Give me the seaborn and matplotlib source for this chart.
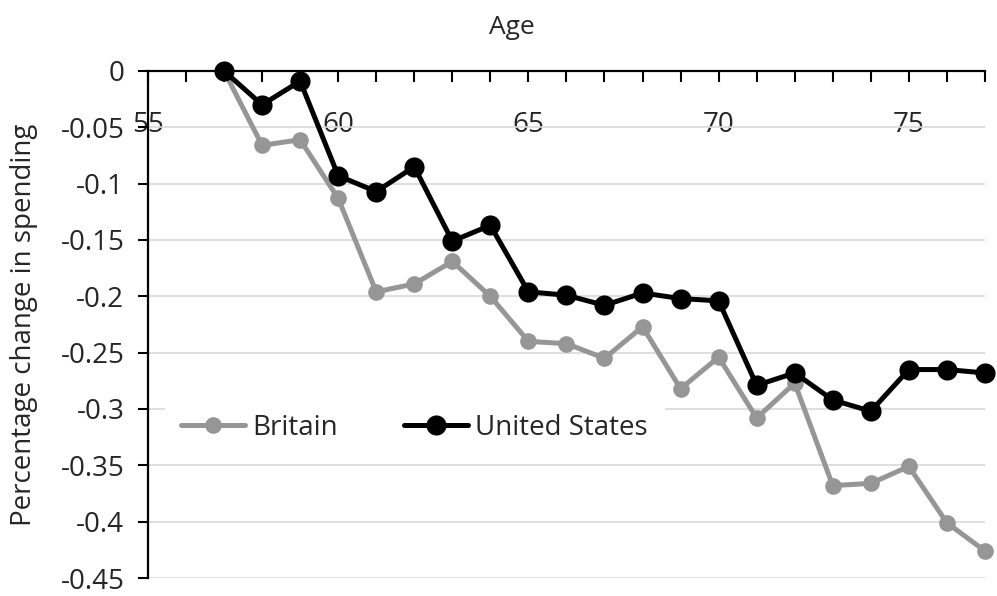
import numpy as np
import pandas as pd
import matplotlib
matplotlib.use("Agg")
import matplotlib.pyplot as plt
from matplotlib.ticker import MultipleLocator
import seaborn as sns

# Data
ages = list(range(57, 78))
britain = [0.0, -0.066, -0.061, -0.113, -0.196, -0.189, -0.169, -0.200, -0.240, -0.242,
           -0.255, -0.227, -0.282, -0.254, -0.308, -0.277, -0.368, -0.366, -0.351, -0.401, -0.426]
united_states = [0.0, -0.030, -0.009, -0.093, -0.107, -0.085, -0.151, -0.137, -0.196, -0.199,
                 -0.208, -0.197, -0.202, -0.204, -0.279, -0.268, -0.292, -0.302, -0.265, -0.265, -0.268]
y_ticks = [0, -0.05, -0.1, -0.15, -0.2, -0.25, -0.3, -0.35, -0.4, -0.45]
y_tick_labels = ["0", "-0.05", "-0.1", "-0.15", "-0.2", "-0.25", "-0.3", "-0.35", "-0.4", "-0.45"]

sns.set_theme(style="white")
plt.rcParams['font.family'] = ['Open Sans', 'DejaVu Sans']
plt.rcParams['axes.unicode_minus'] = False

fig = plt.figure(figsize=(9.97, 5.96), dpi=100)
ax = fig.add_axes([0.1484, 0.0302, 0.8395, 0.8507])

# Britain first so the US marker sits on top at age 57
sns.lineplot(x=ages, y=britain, ax=ax, color='#969696', linewidth=3.6, marker='o',
             markersize=12, markeredgewidth=0, label='Britain', clip_on=False, zorder=3)
sns.lineplot(x=ages, y=united_states, ax=ax, color='black', linewidth=3.6, marker='o',
             markersize=14.5, markeredgewidth=0, label='United States', clip_on=False, zorder=4)

ax.set_xlim(55, 77)
ax.set_ylim(-0.45, 0)

# x axis sits at y = 0, at the top of the plot
ax.spines['bottom'].set_position(('data', 0))
ax.spines['top'].set_visible(False)
ax.spines['right'].set_visible(False)
for s in ['bottom', 'left']:
    ax.spines[s].set_linewidth(1.6)
    ax.spines[s].set_color('black')

ax.xaxis.set_major_locator(MultipleLocator(5))
ax.xaxis.set_minor_locator(MultipleLocator(1))
ax.tick_params(axis='x', which='both', direction='out', length=8, width=1.5, color='black',
               bottom=True, labelsize=20, pad=21)
ax.tick_params(axis='x', which='minor', labelbottom=False)

ax.set_yticks(y_ticks)
ax.set_yticklabels(y_tick_labels)
ax.tick_params(axis='y', direction='out', length=7, width=1.5, color='black', left=True,
               labelsize=20, pad=10)

ax.yaxis.grid(True, color='#d9d9d9', linewidth=1.2)
ax.set_axisbelow(True)

ax.set_xlabel('Age', fontsize=19)
ax.xaxis.set_label_position('top')
ax.xaxis.set_label_coords((512 - 148) / 837, 1 + (71 - 34) / 507)
ax.set_ylabel('Percentage change in spending', fontsize=20)
ax.yaxis.set_label_coords(-(148 - 38) / 837, 0.5)

leg = ax.legend(loc='center left', bbox_to_anchor=(0.02, 0.296), ncol=2, frameon=True,
                fontsize=20, handlelength=2.3, handletextpad=0.25, columnspacing=2.4,
                borderaxespad=0, borderpad=0.6)
leg.get_frame().set_facecolor('white')
leg.get_frame().set_edgecolor('none')
leg.get_frame().set_alpha(1)
leg.set_zorder(5)

fig.savefig('out.png', dpi=100)
